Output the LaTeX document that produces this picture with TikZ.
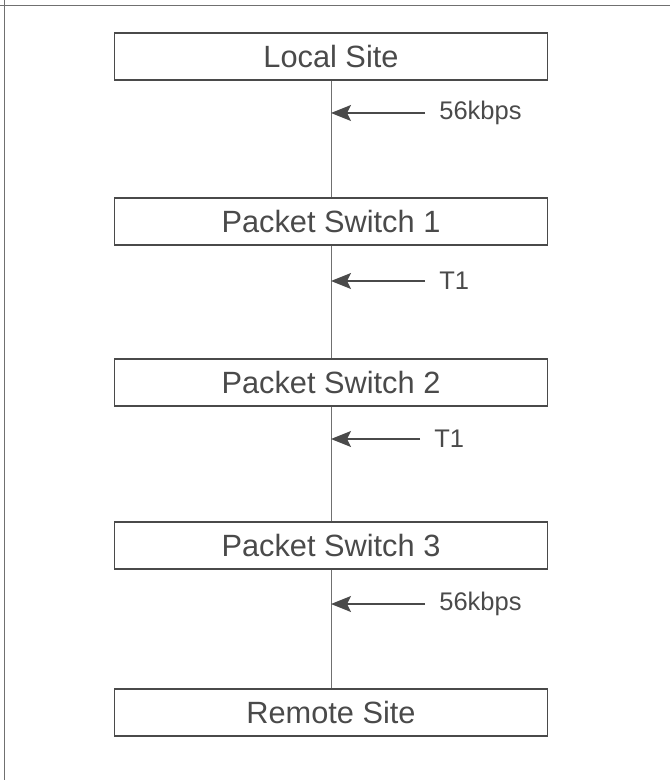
\documentclass[tikz,border=0pt]{standalone}
\usepackage{fontspec}
\setmainfont{Liberation Sans}
\usetikzlibrary{arrows.meta,positioning}
\definecolor{inkgrey}{HTML}{4A4A4A}
\definecolor{framegrey}{HTML}{707070}

\begin{document}
\begin{tikzpicture}[every node/.style={text=inkgrey},
    site/.style={draw=inkgrey, line width=0.6pt, minimum width=8.65cm, minimum height=0.94cm, inner sep=0pt, font=\fontsize{17.5}{20}\selectfont},
    link/.style={draw=framegrey, line width=0.5pt},
    rate/.style={draw=inkgrey, line width=0.8pt, -{Stealth[length=4mm,width=3.2mm,inset=0.8mm]}},
    ratelabel/.style={font=\fontsize{14.5}{17}\selectfont, inner sep=0.28cm, anchor=west}]
                \useasboundingbox (0,0) rectangle (13.4,-15.6);
                % frame
                \draw [framegrey, line width=0.7pt] (0,-0.11) -- (13.4,-0.11);
                \draw [framegrey, line width=0.7pt] (0.09,0) -- (0.09,-15.6);
                % sites and switches
                \node [site] (local) at (6.62,-1.13) {Local Site};
                \node [site] (ps1) at (6.62,-4.43) {Packet Switch 1};
                \node [site] (ps2) at (6.62,-7.65) {Packet Switch 2};
                \node [site] (ps3) at (6.62,-10.91) {Packet Switch 3};
                \node [site] (remote) at (6.62,-14.25) {Remote Site};
                % links
                \draw [link] (local) -- (ps1);
                \draw [link] (ps1) -- (ps2);
                \draw [link] (ps2) -- (ps3);
                \draw [link] (ps3) -- (remote);
                % line rates
                \node [ratelabel] (r1) at (8.5,-2.26) {56kbps};
                \node [ratelabel] (r2) at (8.5,-5.62) {T1};
                \node [ratelabel] (r3) at (8.4,-8.78) {T1};
                \node [ratelabel] (r4) at (8.5,-12.08) {56kbps};
                \draw [rate] (r1.west) -- (r1.west -| local.south);
                \draw [rate] (r2.west) -- (r2.west -| ps1.south);
                \draw [rate] (r3.west) -- (r3.west -| ps2.south);
                \draw [rate] (r4.west) -- (r4.west -| ps3.south);
            \end{tikzpicture}
\end{document}
